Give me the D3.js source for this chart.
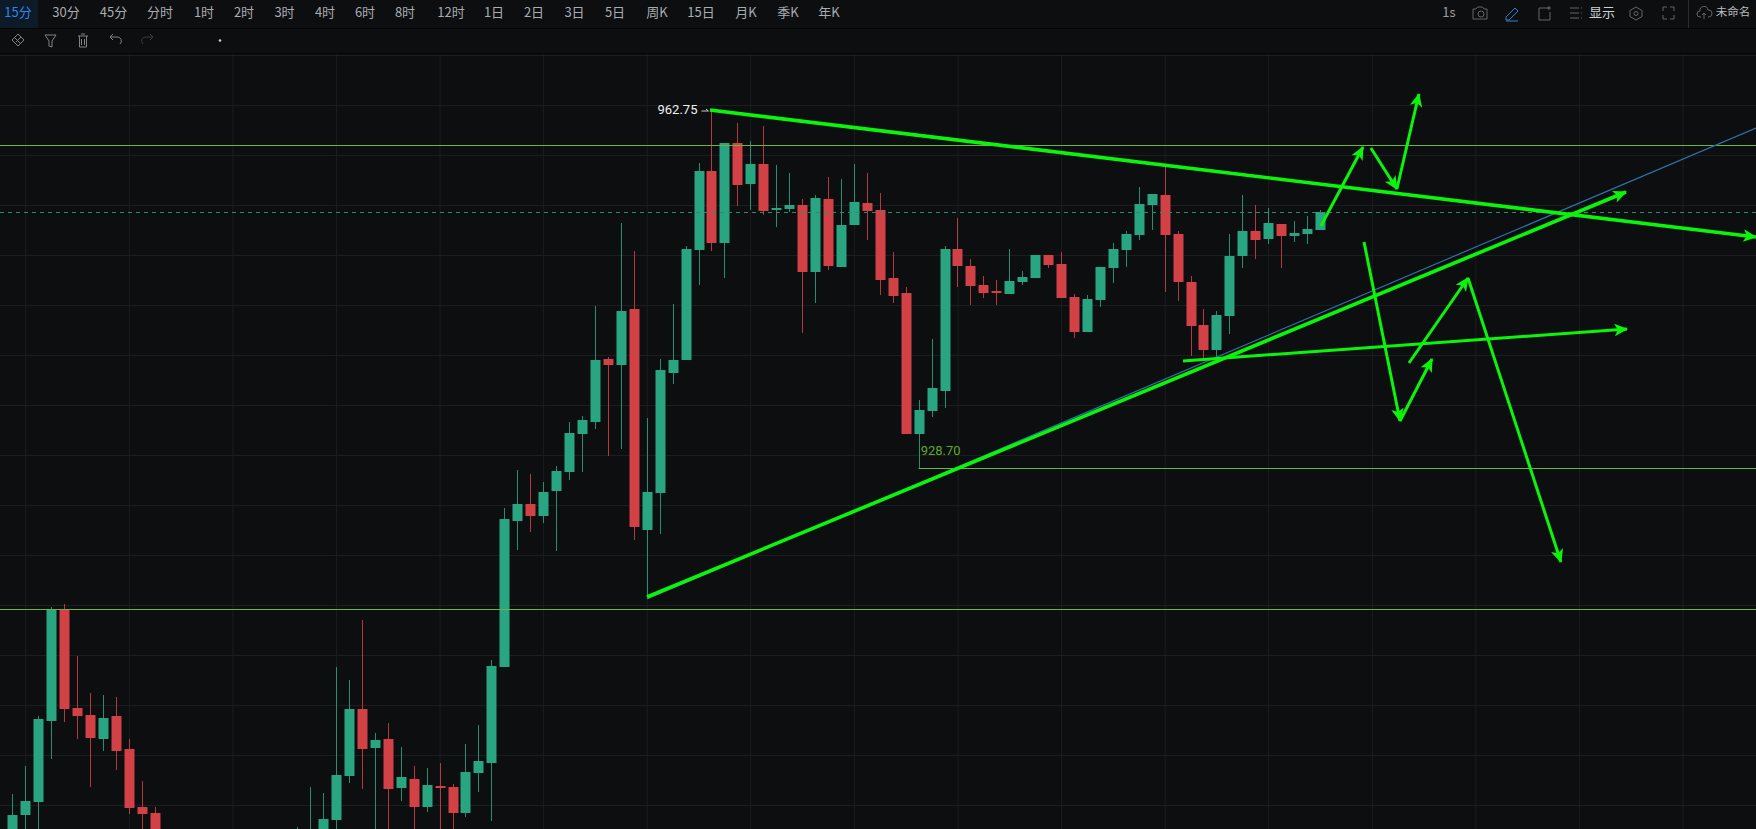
<!DOCTYPE html>
<html><head><meta charset="utf-8">
<script src="https://cdnjs.cloudflare.com/ajax/libs/d3/7.8.5/d3.min.js"></script>
<style>html,body{margin:0;padding:0;background:#0c0e10;overflow:hidden}svg{display:block}</style>
</head><body><svg id="c" width="1756" height="829"></svg>
<script>
const barIndex = d3.range(0,12).concat(d3.range(22,102));
const opens = [889.25,892.25,893.55,901.65,912.75,902.95,902.25,899.85,902.15,898.85,893.05,892.45,
888.75,888.25,889.25,891.75,896.15,902.85,898.95,899.85,894.95,895.85,893.05,895.15,895.05,892.45,896.45,897.45,907.05,
921.65,923.35,922.15,924.65,926.55,930.35,931.55,937.85,937.25,942.85,920.75,924.45,936.45,937.75,948.75,956.65,949.45,
959.45,955.35,957.35,952.75,952.85,953.25,946.55,953.85,947.05,951.25,953.45,952.75,945.95,944.45,930.35,932.65,934.65,
948.85,947.15,945.25,944.65,944.35,945.55,945.95,948.25,947.35,944.05,940.55,943.75,946.95,948.75,950.25,953.25,954.25,
950.35,945.55,941.25,938.75,942.15,948.15,950.65,949.85,951.35,950.15,950.35,950.75];
const closes = [892.25,893.65,901.85,912.85,902.85,902.15,899.95,901.95,898.65,892.95,892.35,889.25,
890.25,889.75,891.85,896.25,902.85,898.85,899.75,894.85,896.05,893.05,895.25,894.95,892.45,896.55,897.65,907.15,921.85,
923.35,922.15,924.55,926.65,930.45,931.75,937.75,937.25,942.65,921.05,924.55,936.75,937.75,948.85,956.65,949.45,959.45,
955.25,957.35,952.65,952.95,953.25,946.55,953.95,947.15,951.25,953.55,952.65,945.75,944.15,930.35,932.75,934.95,948.85,
947.15,945.15,944.45,944.45,945.65,946.05,948.25,947.25,943.95,940.55,943.85,947.05,948.85,950.35,953.35,954.35,950.25,
945.55,941.15,938.75,942.25,948.15,950.65,949.75,951.45,950.15,950.45,950.85,952.55];
const highs = [894.35,897.15,902.15,913.05,913.35,908.15,904.45,904.25,904.05,899.85,895.65,893.05,
891.05,895.05,894.45,907.05,905.75,911.75,900.45,901.45,899.05,897.15,896.95,897.45,895.35,899.35,901.25,907.75,922.95,
926.75,926.35,925.55,927.15,931.55,932.15,943.15,938.05,951.45,948.65,931.95,937.85,943.35,949.15,957.45,962.75,959.45,
961.45,959.65,961.15,957.25,956.45,953.85,954.25,956.05,955.85,957.35,956.45,954.45,948.55,945.05,933.75,939.85,949.15,
951.95,947.85,946.15,945.75,948.85,946.65,948.25,948.25,948.55,944.35,944.25,947.05,949.45,950.65,955.05,954.35,957.05,
950.65,946.15,942.85,942.65,950.35,954.25,953.25,952.95,951.35,951.65,952.15,952.75];
const lows = [887.75,888.75,888.75,897.85,901.55,899.85,895.05,898.65,896.75,892.35,888.75,887.75,
887.75,887.75,887.75,888.75,895.45,894.85,888.75,888.75,893.65,888.75,892.55,888.75,888.75,892.05,894.55,891.65,907.05,
918.75,920.55,921.45,918.65,925.75,926.55,930.85,928.15,928.85,919.75,914.05,920.35,935.35,937.75,945.25,948.65,945.95,
953.15,952.75,952.25,951.05,952.55,940.45,943.45,946.75,947.05,951.25,949.75,944.25,943.45,930.35,926.95,932.05,932.95,
945.05,943.25,943.95,943.25,944.35,945.25,945.95,946.95,943.95,939.95,940.55,943.05,945.45,947.05,949.75,950.75,944.55,
943.65,938.15,937.95,938.05,940.35,946.95,947.85,949.35,946.95,949.55,949.35,950.75];

const priceLines = [959.25, 912.85];
const lowLine = {bar:70, price:926.95};
const lastPrice = 952.55;
const highLabel = "962.75";
const lowLabel = "928.70";
const trendLines = [
  [[53.88,962.75],[134.67,950.05]],
  [[49.02,914.05],[124.63,954.55]],
  [[101.07,951.15],[104.32,959.05]],
  [[104.93,958.95],[106.94,954.85]],
  [[106.94,954.85],[108.64,964.35]],
  [[104.40,949.55],[107.18,931.65]],
  [[107.18,931.65],[109.65,937.85]],
  [[107.87,937.45],[112.43,945.95]],
  [[112.43,945.95],[119.61,917.55]],
  [[90.42,937.65],[124.71,940.85]]
];
const blueLine = [[49.02,913.85],[134.67,960.95]];

const tabLabels = ["15分","30分","45分","分时","1时","2时","3时","4时","6时","8时","12时","1日","2日","3日","5日","周K","15日","月K","季K","年K"];
const tabCenters = [18,66,113.5,160,204,244,284.5,325,365,405,451,494,534,574.5,615,657,701,746,788,829];

const W=1756,H=829,topH=53;
const x=d3.scaleLinear().domain([0,101]).range([12.3,1320]);
const y=d3.scaleLinear().domain([973.75,890.85]).range([0,H]);
const svg=d3.select("#c");
const font='"Noto Sans CJK SC","Noto Sans",sans-serif';
const bgCol="#0c0e10", lime="#0af50a";
svg.append("rect").attr("width",W).attr("height",H).attr("fill",bgCol);

const defs=svg.append("defs");
defs.append("clipPath").attr("id","plot").append("rect").attr("x",0).attr("y",topH).attr("width",W).attr("height",H-topH);
defs.append("marker").attr("id","ah").attr("markerUnits","userSpaceOnUse").attr("markerWidth",16).attr("markerHeight",14)
  .attr("viewBox","-12 -6 14 12").attr("refX",0).attr("refY",0).attr("orient","auto")
  .append("path").attr("d","M1,0L-11,-5.5L-8,0L-11,5.5Z").attr("fill",lime);

const plot=svg.append("g").attr("clip-path","url(#plot)");

// grid through axes
const gx=plot.append("g").attr("transform",`translate(0,${H})`)
  .call(d3.axisBottom(x).tickValues(d3.range(1,134,8)).tickSize(-H).tickFormat(""));
const gy=plot.append("g")
  .call(d3.axisLeft(y).tickValues(d3.range(893.25,970,5)).tickSize(-W).tickFormat(""));
[gx,gy].forEach(g=>{g.select(".domain").remove();g.selectAll("line").attr("stroke","#1b1d20").attr("stroke-width",1);});

const bars=barIndex.map((b,i)=>({b,o:opens[i],c:closes[i],h:highs[i],l:lows[i]}));
const colG="#2aa581",colR="#d24146";
const col=d=>d.c>=d.o?colG:colR;
plot.append("g").selectAll("line").data(bars).join("line")
  .attr("x1",d=>Math.round(x(d.b))+.5).attr("x2",d=>Math.round(x(d.b))+.5)
  .attr("y1",d=>y(d.h)).attr("y2",d=>y(d.l)).attr("stroke",col).attr("stroke-opacity",.85).attr("stroke-width",1);
plot.append("g").selectAll("rect").data(bars).join("rect")
  .attr("x",d=>Math.round(x(d.b))-4.5).attr("width",10)
  .attr("y",d=>y(Math.max(d.o,d.c))).attr("height",d=>Math.max(2,Math.abs(y(d.o)-y(d.c))))
  .attr("rx",.5).attr("fill",col);

// horizontal levels
plot.append("g").selectAll("line").data(priceLines).join("line")
  .attr("x1",0).attr("x2",W).attr("y1",d=>y(d)+.5).attr("y2",d=>y(d)+.5)
  .attr("stroke","#6cb53c").attr("stroke-width",1);
plot.append("line").attr("x1",x(lowLine.bar)).attr("x2",W).attr("y1",y(lowLine.price)+.5).attr("y2",y(lowLine.price)+.5)
  .attr("stroke","#6cb53c").attr("stroke-width",1);
plot.append("line").attr("x1",0).attr("x2",W).attr("y1",y(lastPrice)+.5).attr("y2",y(lastPrice)+.5)
  .attr("stroke","#2f8a72").attr("stroke-width",1).attr("stroke-dasharray","4,4");

// annotations
const ln=d3.line().x(d=>x(d[0])).y(d=>y(d[1]));
plot.append("path").attr("d",ln(blueLine)).attr("fill","none").attr("stroke","#2f6fa8").attr("stroke-width",1.2);
plot.append("g").selectAll("path").data(trendLines).join("path")
  .attr("d",ln).attr("fill","none").attr("stroke",lime)
  .attr("stroke-width",(d,i)=>i<2?3.6:3)
  .attr("marker-end","url(#ah)");

// labels
const hb=bars.find(d=>d.h===d3.max(highs));
plot.append("text").attr("x",x(hb.b)-14).attr("y",y(hb.h)+1).attr("text-anchor","end").attr("dominant-baseline","middle")
  .attr("font-family","Roboto,sans-serif").attr("font-size",13).attr("fill","#f0f0f0").text(highLabel);
plot.append("path").attr("d",`M${x(hb.b)-10},${y(hb.h)+1}h7m-2.5,-2l2.5,2`).attr("stroke","#c8c8c8").attr("fill","none");
plot.append("text").attr("x",x(lowLine.bar)+2).attr("y",y(lowLine.price)-16).attr("dominant-baseline","middle")
  .attr("font-family","Roboto,sans-serif").attr("font-size",13).attr("fill","#5fa82e").text(lowLabel);

// toolbars
const bar=svg.append("g");
bar.append("rect").attr("width",W).attr("height",topH).attr("fill",bgCol);
bar.append("rect").attr("width",38).attr("height",28).attr("fill","#0d1a27");
bar.append("rect").attr("y",28).attr("width",W).attr("height",1).attr("fill","#030405");
bar.append("rect").attr("y",53).attr("width",W).attr("height",1).attr("fill","#030405");
bar.append("rect").attr("x",1688).attr("width",1).attr("height",28).attr("fill","#2a2c30");
bar.selectAll("text.tab").data(tabLabels).join("text").attr("class","tab")
  .attr("x",(d,i)=>tabCenters[i]).attr("y",13).attr("text-anchor","middle").attr("dominant-baseline","middle")
  .attr("font-family",font).attr("font-size",13)
  .attr("fill",(d,i)=>i===0?"#2f86e8":"#a9acb1").text(d=>d);
const t=(s,xp,size,fill,w)=>bar.append("text").attr("x",xp).attr("y",13).attr("text-anchor","middle").attr("dominant-baseline","middle")
  .attr("font-family",font).attr("font-size",size).attr("font-weight",w||400).attr("fill",fill).text(s);
t("1s",1449,13,"#9a9da2"); t("显示",1602,13,"#cfd1d4"); t("未命名",1733,11.5,"#b8babd");
const ic=(d,c,sw)=>bar.append("path").attr("d",d).attr("fill","none").attr("stroke",c).attr("stroke-width",sw||1);
const g1="#62656a";
ic("M1473,9h3l1.5,-2h5l1.5,2h3v10h-14zM1484,14a3,3 0 1,1 -6,0a3,3 0 1,1 6,0",g1);
ic("M1506,17l9,-9l3,3l-9,9h-3zM1506,21h12","#2f7fd8");
ic("M1549,8h-10v12h11v-8M1549,6v4M1547,8h4",g1);
ic("M1570,8h9M1570,13h9M1570,18h9M1581,8h1M1581,13h1M1581,18h1",g1);
ic("M1636,7l6,3.5v6l-6,3.5l-6,-3.5v-6zM1638,13.5a2,2 0 1,1 -4,0a2,2 0 1,1 4,0",g1);
ic("M1663,11v-4h4M1670,7h4v4M1674,15v4h-4M1667,19h-4v-4",g1);
ic("M1701,17h-1a3,3 0 0,1 0,-6a4,4 0 0,1 8,-1a3.5,3.5 0 0,1 1,7h-1M1704,19v-6m-2,2l2,-2l2,2",g1);
const g2="#808388";
ic("M12,40l6,-6l6,6l-6,6zM16,42l5,-5M15,38l5,5",g2);
ic("M45,35h11l-4,6v6l-3,-1v-5z",g2);
ic("M78,36h10M79.500,36v11h7v-11M81,34h4M81.500,39v6M84.500,39v6",g2);
ic("M110,37h7a4,4 0 0,1 3,7M110,37l3,-3M110,37l3,3",g2);
ic("M153,37h-7a4,4 0 0,0 -3,7M153,37l-3,-3M153,37l-3,3","#3a3c40");
bar.append("circle").attr("cx",220).attr("cy",40.5).attr("r",1.3).attr("fill","#d0d0d0");
</script></body></html>
